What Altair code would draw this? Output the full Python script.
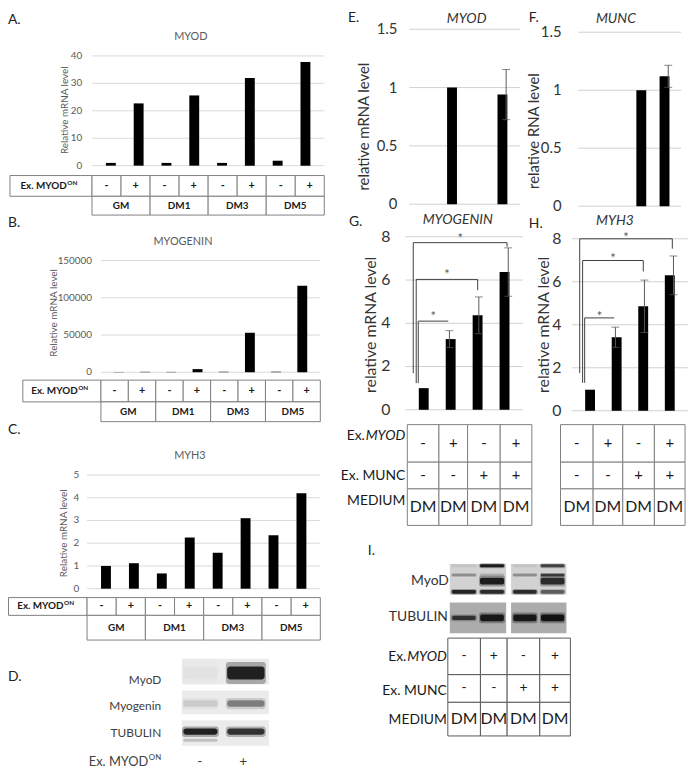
import altair as alt
import pandas as pd

# ====================== DATA ======================
abc_groups = ["GM", "DM1", "DM3", "DM5"]
abc_ex_myod = ["-", "+", "-", "+", "-", "+", "-", "+"]
myod_A = [1.0, 22.7, 1.0, 25.6, 1.0, 32.0, 1.8, 37.8]
myogenin_B = [300, 500, 400, 4200, 600, 53000, 700, 116000]
myh3_C = [1.0, 1.12, 0.67, 2.25, 1.58, 3.1, 2.35, 4.2]
ticks_A = [0, 10, 20, 30, 40]
ticks_B = [0, 50000, 100000, 150000]
ticks_C = [0, 1, 2, 3, 4, 5]

blot_D_rows = ["MyoD", "Myogenin", "TUBULIN"]
blot_D_lanes = ["-", "+"]
blot_D_main = [[0.03, 0.95], [0.12, 0.45], [0.95, 0.85]]
blot_D_tub_lower = [0.18, 0.0]

conds = ["ctrl", "MYOD", "MUNC", "MYOD+MUNC"]
tbl_ex_myod = ["-", "+", "-", "+"]
tbl_ex_munc = ["-", "-", "+", "+"]
tbl_medium = ["DM", "DM", "DM", "DM"]

E_conds = ["MYOD", "MYOD+MUNC"]
E_vals = [1.0, 0.94]
E_err = [0.0, 0.215]
F_conds = ["MUNC", "MYOD+MUNC"]
F_vals = [1.0, 1.12]
F_err = [0.0, 0.095]
G_vals = [1.0, 3.27, 4.37, 6.37]
G_err = [0.0, 0.39, 0.85, 1.12]
H_vals = [0.98, 3.42, 4.86, 6.3]
H_err = [0.0, 0.47, 1.22, 0.9]
ticks_EF = [0, 0.5, 1, 1.5]
ticks_GH = [0, 2, 4, 6, 8]

sig_to = ["MYOD", "MUNC", "MYOD+MUNC"]
G_sig_top = [4.1, 6.03, 7.73]
G_sig_end = [4.1, 5.53, 7.54]
G_sig_base = [1.23, 1.23, 1.69]
H_sig_top = [4.32, 6.99, 8.0]
H_sig_end = [4.32, 6.48, 7.54]
H_sig_base = [1.3, 1.3, 1.75]

blot_I_rows = ["MyoD", "TUBULIN"]
I_myod_top = [0.05, 0.95, 0.05, 0.7]
I_myod_upper = [0.3, 0.15, 0.3, 0.75]
I_myod_main = [0.0, 0.95, 0.0, 0.85]
I_myod_low = [0.9, 0.85, 0.85, 0.55]
I_tub = [0.75, 0.95, 0.95, 1.0]

# ====================== LAYOUT / STYLE ======================
OX, OY = 8, 8
W, H = 688, 767
FONT = "Lato"
GREY = "#595959"
DARK = "#333333"
layers = []


def interp(v, d, r):
    for i in range(len(d) - 1):
        if v <= d[i + 1] or i == len(d) - 2:
            return r[i] + (v - d[i]) * (r[i + 1] - r[i]) / (d[i + 1] - d[i])


class P:
    def __init__(s, xd, xr, yd, yr):
        s.xd, s.xr, s.yd, s.yr = list(xd), list(xr), list(yd), list(yr)
        s.xs = alt.Scale(domain=s.xd, range=[v - OX for v in s.xr], nice=False, zero=False)
        s.ys = alt.Scale(domain=s.yd, range=[v - OY for v in s.yr], nice=False, zero=False)

    def enc(s, x="x", y="y", x2=None, y2=None, **kw):
        e = {"x": alt.X(x, type="quantitative", scale=s.xs, axis=None),
             "y": alt.Y(y, type="quantitative", scale=s.ys, axis=None)}
        if x2 is not None:
            e["x2"] = alt.X2(x2)
        if y2 is not None:
            e["y2"] = alt.Y2(y2)
        e.update(kw)
        return e


def text(p, xs, ys, ts, **mk):
    n = len(ts)
    xs = xs if isinstance(xs, list) else [xs] * n
    ys = ys if isinstance(ys, list) else [ys] * n
    df = pd.DataFrame({"x": xs, "y": ys, "t": [str(t) for t in ts]})
    mk.setdefault("font", FONT)
    layers.append(alt.Chart(df).mark_text(**mk).encode(**p.enc(text=alt.Text("t:N"))))


def label(p, xv, yv, s, tx, ty, angle=0, **mk):
    ax, ay = interp(xv, p.xd, p.xr), interp(yv, p.yd, p.yr)
    sx, sy = tx - ax, ty - ay
    if angle == 270:
        mk.update(angle=270, dx=-sy, dy=sx)
    else:
        mk.update(dx=sx, dy=sy)
    mk.setdefault("baseline", "middle")
    text(p, xv, yv, [s], **mk)


def grid(p, ticks, a, b, color):
    df = pd.DataFrame({"y": ticks, "x": [a] * len(ticks), "x1": [b] * len(ticks)})
    layers.append(alt.Chart(df).mark_rule(color=color, strokeWidth=1).encode(**p.enc(x2="x1")))


def bars(p, xs, vs, size=10):
    df = pd.DataFrame({"x": xs, "y": vs, "y0": [0.0] * len(vs)})
    layers.append(alt.Chart(df).mark_bar(size=size, color="black", orient="vertical")
                  .encode(**p.enc(y2="y0")))


def errbars(p, xs, vs, es, cap=8, color="#595959"):
    rows = [(x, v - e, v + e) for x, v, e in zip(xs, vs, es) if e > 0]
    df = pd.DataFrame(rows, columns=["x", "y", "y1"])
    layers.append(alt.Chart(df).mark_rule(color=color, strokeWidth=1).encode(**p.enc(y2="y1")))
    caps = pd.DataFrame([(x, y) for x, lo, hi in rows for y in (lo, hi)], columns=["x", "y"])
    layers.append(alt.Chart(caps).mark_tick(orient="horizontal", size=cap, thickness=1, color=color)
                  .encode(**p.enc()))


def segs(p, rows, color, width=1):
    df = pd.DataFrame(rows, columns=["x", "y", "x1", "y1"])
    layers.append(alt.Chart(df).mark_rule(color=color, strokeWidth=width).encode(**p.enc(x2="x1", y2="y1")))


def rects(p, rows, **mk):
    df = pd.DataFrame(rows, columns=["x", "x1", "y", "y1"])
    layers.append(alt.Chart(df).mark_rect(**mk).encode(**p.enc(x2="x1", y2="y1")))


def bands(p, rows, **mk):
    df = pd.DataFrame(rows, columns=["x", "x1", "y", "y1", "a"])
    layers.append(alt.Chart(df).mark_rect(color="black", **mk).encode(**p.enc(
        x2="x1", y2="y1",
        opacity=alt.Opacity("a:Q", scale=alt.Scale(domain=[0, 1], range=[0, 1]), legend=None))))


# ---------------- panels A, B, C ----------------
ABC = [
    dict(vals=myod_A, ticks=ticks_A, title="MYOD", letter="A.",
         x=[93, 328], y=[163, 52], tick_right=83, ytitle=(66, 107), title_xy=(193, 33),
         letter_xy=(8, 16), tx=[10, 93, 328], ty=[173, 194, 213]),
    dict(vals=myogenin_B, ticks=ticks_B, title="MYOGENIN", letter="B.",
         x=[102, 324], y=[372, 259], tick_right=93, ytitle=(55, 312), title_xy=(185, 240),
         letter_xy=(8, 221), tx=[23, 102, 324], ty=[380, 402, 422]),
    dict(vals=myh3_C, ticks=ticks_C, title="MYH3", letter="C.",
         x=[88, 324], y=[591, 476], tick_right=80, ytitle=(65, 535), title_xy=(192, 457),
         letter_xy=(8, 431), tx=[8.5, 88, 324], ty=[600, 618, 643]),
]
for L in ABC:
    top = L["ticks"][-1]
    p = P([0.5, 8.5], L["x"], [0, top], L["y"])
    grid(p, L["ticks"], 0.5, 8.5, "#d9d9d9")
    bars(p, list(range(1, 9)), L["vals"], 10)
    text(p, 0.5, L["ticks"], L["ticks"], align="right", baseline="middle",
         dx=L["tick_right"] - L["x"][0], fontSize=10, color=GREY)
    label(p, 0.5, top / 2, "Relative mRNA level", *L["ytitle"], angle=270, align="center",
          fontSize=10, color=GREY)
    label(p, 4.5, top, L["title"], *L["title_xy"], align="center", fontSize=11, color=GREY)
    label(p, 0.5, top, L["letter"], *L["letter_xy"], align="left", fontSize=14, color="#222222")

    t = P([0, 1, 9], L["tx"], [0, 1, 2], L["ty"])
    cell_rows = [(0, 1, 0, 1)] + [(i, i + 1, 0, 1) for i in range(1, 9)] + \
                [(1 + 2 * k, 3 + 2 * k, 1, 2) for k in range(4)]
    rects(t, cell_rows, fill="white", stroke="#7f7f7f", strokeWidth=1)
    text(t, [i + 0.5 for i in range(1, 9)], 0.5, abc_ex_myod, align="center", baseline="middle",
         fontWeight="bold", fontSize=11, color="#1a1a1a")
    text(t, [2 + 2 * k for k in range(4)], 1.5, abc_groups, align="center", baseline="middle",
         fontWeight="bold", fontSize=10, color="#1a1a1a")
    text(t, 0.5, 0.5, ["Ex. MYOD"], align="right", baseline="middle", dx=16,
         fontWeight="bold", fontSize=10, color="#1a1a1a")
    text(t, 0.5, 0.5, ["ON"], align="left", baseline="middle", dx=16.5, dy=-3,
         fontWeight="bold", fontSize=6.5, color="#1a1a1a")

# ---------------- panel D (blot) ----------------
pD = P([0, 2], [184, 272], [0, 1, 2, 3, 4, 5], [662, 688, 694, 718, 724, 750])
rects(pD, [(0, 2, 2 * r, 2 * r + 1) for r in range(3)], fill="#ebebeb")
D_center = [0.55, 0.55, 0.45]
D_thick = [0.5, 0.28, 0.24]
D_lane_span = [(0.03, 0.82), (1.04, 1.9)]
drows = []
for r in range(3):
    for l in range(2):
        a = blot_D_main[r][l]
        c, th = D_center[r], D_thick[r]
        x0, x1 = D_lane_span[l]
        drows.append((x0 - 0.03, x1 + 0.03, 2 * r + c - th * 0.85, 2 * r + c + th * 0.85, a * 0.3))
        drows.append((x0, x1, 2 * r + c - th / 2, 2 * r + c + th / 2, a * 0.85))
for l in range(2):
    x0, x1 = D_lane_span[l]
    drows.append((x0, x1, 4.72, 4.84, blot_D_tub_lower[l]))
bands(pD, drows, cornerRadius=3)
for r, (name, ty) in enumerate(zip(blot_D_rows, [683, 710, 737])):
    label(pD, 0, 2 * r + 0.5, name, 163, ty, align="right", fontSize=12, color="#404040")
label(pD, 0, 2.5, "D.", 8, 680, align="left", fontSize=14, color="#222222")
label(pD, 0, 5, "Ex. MYOD", 150, 766, align="right", fontSize=13, color="#404040")
label(pD, 0, 5, "ON", 150.5, 762, align="left", fontSize=8, color="#404040")
for l, s in enumerate(blot_D_lanes):
    label(pD, l + 0.5, 5, s, [202, 246][l], 766, align="center", fontSize=14, color="#404040")

# ---------------- panels E, F, G, H ----------------
def bar_panel(x, y, yd, ticks, idx, vals, errs, tick_right, tick_size, ytitle, ytitle_xy,
              ytitle_size, title, title_xy, letter, letter_xy):
    p = P([0.5, 4.5], x, yd, y)
    grid(p, ticks, 0.5, 4.5, "#d0d0d0")
    bars(p, idx, vals, 10)
    errbars(p, idx, vals, errs, cap=8, color="#595959")
    text(p, 0.5, ticks, ticks, align="right", baseline="middle", dx=tick_right - x[0],
         fontSize=tick_size, color=DARK)
    label(p, 0.5, yd[1] / 2, ytitle, *ytitle_xy, angle=270, align="center",
          fontSize=ytitle_size, color=DARK)
    label(p, 2.5, yd[1], title, *title_xy, align="center", fontSize=14, fontStyle="italic", color=DARK)
    label(p, 0.5, yd[1], letter, *letter_xy, align="left", fontSize=14, color="#222222")
    return p


pE = bar_panel([414, 526], [202, 25], [0, 1.5], ticks_EF, [conds.index(c) + 1 for c in E_conds],
               E_vals, E_err, 402, 15, "relative mRNA level", (368, 123.5), 15,
               "MYOD", (472, 15), "E.", (352, 14))
pF = bar_panel([585, 689], [204, 28], [0, 1.5], ticks_EF, [conds.index(c) + 1 for c in F_conds],
               F_vals, F_err, 568, 15, "relative RNA level", (540, 128), 15,
               "MUNC", (623, 15), "F.", (535, 14))
pG = bar_panel([410, 529], [410, 235], [0, 8], ticks_GH, [1, 2, 3, 4],
               G_vals, G_err, 395, 16, "relative mRNA level", (375, 324), 16,
               "MYOGENIN", (463, 218), "G.", (353, 220))
pH = bar_panel([578.5, 696], [411, 237], [0, 8], ticks_GH, [1, 2, 3, 4],
               H_vals, H_err, 568, 16, "relative mRNA level", (550, 324), 16,
               "MYH3", (622, 219), "H.", (535, 222))

leg_off = [-0.06, -0.13, -0.23]
for p, tops, ends, bases, sdy in [(pG, G_sig_top, G_sig_end, G_sig_base, -4),
                                  (pH, H_sig_top, H_sig_end, H_sig_base, -1)]:
    srows, stars_x, stars_y = [], [], []
    for k, c in enumerate(sig_to):
        xl = 1 + leg_off[k]
        xr = conds.index(c) + 1 - 0.04
        srows.append((xl, bases[k], xl, tops[k]))
        srows.append((xl, tops[k], xr, tops[k]))
        if ends[k] < tops[k]:
            srows.append((xr, tops[k], xr, ends[k]))
        stars_x.append((xl + xr) / 2)
        stars_y.append(tops[k])
    segs(p, srows, "#404040", 1)
    text(p, stars_x, stars_y, ["*"] * 3, align="center", baseline="middle", dy=sdy,
         fontSize=13, color=GREY)

# ---------------- tables G/H/I ----------------
def table4(xb, yb, stroke, pm_size, dm_size):
    t = P([0, 1, 2, 3, 4], xb, [0, 1, 2, 3], yb)
    rects(t, [(c, c + 1, r, r + 1) for r in range(3) for c in range(4)],
          fill="white", stroke=stroke, strokeWidth=1)
    cx = [c + 0.5 for c in range(4)]
    text(t, cx, 0.5, tbl_ex_myod, align="center", baseline="middle", fontSize=pm_size, color="#1a1a1a")
    text(t, cx, 1.5, tbl_ex_munc, align="center", baseline="middle", fontSize=pm_size, color="#1a1a1a")
    text(t, cx, 2.5, tbl_medium, align="center", baseline="middle", fontSize=dm_size, color="#1a1a1a")
    return t


tG = table4([412, 444, 473, 506, 538], [425, 463, 490, 527], "#808080", 15, 16)
tH = table4([567, 600, 630, 662, 693], [425, 463, 490, 527], "#808080", 15, 16)
tI = table4([453, 486, 513, 546, 577], [641, 678, 706, 740], "#595959", 14, 16)

for t, right, ys in [(tG, 410, (437, 477, 502)), (tI, 452, (660, 695, 724))]:
    label(t, 0, 0.5, "MYOD", right, ys[0], align="right", fontSize=14, fontStyle="italic", color="#1a1a1a")
    label(t, 0, 0.5, "Ex.", right - 41, ys[0], align="right", fontSize=14, color="#1a1a1a")
    label(t, 0, 1.5, "Ex. MUNC", right, ys[1], align="right", fontSize=14, color="#1a1a1a")
    label(t, 0, 2.5, "MEDIUM", right, ys[2], align="right", fontSize=14, color="#1a1a1a")

# ---------------- panel I (blot) ----------------
pI = P([0, 2, 2.1, 4.1], [455, 512, 517, 573], [0, 1, 2, 3], [566, 597, 605, 636])
rects(pI, [(0, 2, 0, 1), (2.1, 4.1, 0, 1)], fill="#d2d2d2")
rects(pI, [(0, 2, 2, 3), (2.1, 4.1, 2, 3)], fill="#acacac")
I_lane_start = [0, 1, 2.1, 3.1]
I_myod_levels = [(0.06, 0.1, I_myod_top), (0.36, 0.08, I_myod_upper),
                 (0.56, 0.22, I_myod_main), (0.91, 0.12, I_myod_low)]
irows = []
for c, th, ints in I_myod_levels:
    for l in range(4):
        s = I_lane_start[l]
        irows.append((s + 0.04, s + 0.96, c - th * 0.8, c + th * 0.8, ints[l] * 0.3))
        irows.append((s + 0.07, s + 0.93, c - th / 2, c + th / 2, ints[l] * 0.85))
for l in range(4):
    s = I_lane_start[l]
    th = 0.14 if l == 0 else 0.22
    irows.append((s + 0.04, s + 0.96, 2.5 - th * 0.8, 2.5 + th * 0.8, I_tub[l] * 0.3))
    irows.append((s + 0.08, s + 0.92, 2.5 - th / 2, 2.5 + th / 2, I_tub[l] * 0.85))
bands(pI, irows, cornerRadius=2)
label(pI, 0, 0.5, blot_I_rows[0], 454, 583, align="right", fontSize=14, color=DARK)
label(pI, 0, 2.5, blot_I_rows[1], 453, 620, align="right", fontSize=14, color=DARK)
label(pI, 0, 0, "I.", 372, 553, align="left", fontSize=14, color="#222222")

# ---------------- assemble ----------------
chart = (
    alt.layer(*layers)
    .resolve_scale(x="independent", y="independent", opacity="independent")
    .properties(width=W, height=H, padding=0, autosize=alt.AutoSizeParams(type="none"),
                background="white")
    .configure_view(strokeOpacity=0)
)
chart.save("out.html", embed_options={"renderer": "svg", "actions": False})
